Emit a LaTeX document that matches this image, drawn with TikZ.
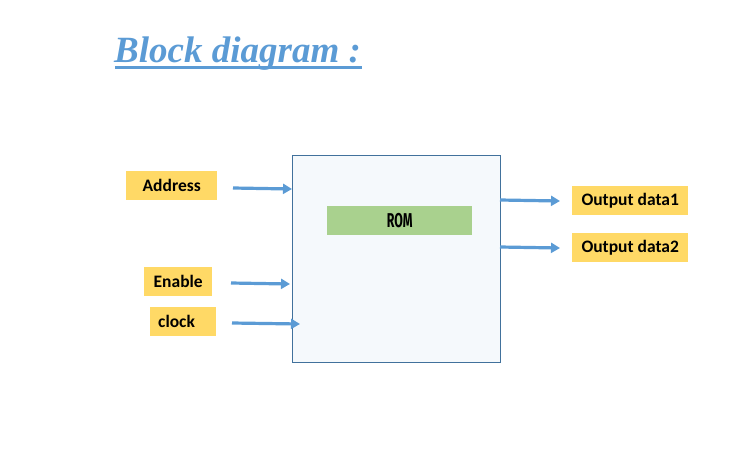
\documentclass[tikz,border=0pt]{standalone}
\usepackage{fontspec}
\setmainfont{Carlito}
\newfontfamily\titlefont{Liberation Serif}
\newfontfamily\romfont{Fira Sans}
\usetikzlibrary{arrows.meta}
\definecolor{arrowblue}{HTML}{5B9BD5}
\definecolor{boxborder}{HTML}{41719C}
\definecolor{boxfill}{HTML}{F5F9FC}
\definecolor{romgreen}{HTML}{A9D18E}
\definecolor{labelyellow}{HTML}{FFD966}
\begin{document}
\begin{tikzpicture}[x=1pt,y=-1pt,
  lbl/.style={fill=labelyellow, inner sep=0pt, font=\fontsize{17.5}{20}\selectfont\bfseries},
  conn/.style={draw=arrowblue, line width=3.2pt, -{Triangle[length=9pt,width=10pt]}}]
\useasboundingbox (0,0) rectangle (747,448);
% title
\node[anchor=base west, inner sep=0pt, text=arrowblue, font=\titlefont\fontsize{37}{42}\selectfont\bfseries\itshape] (title) at (114,62) {Block diagram :};
\draw[arrowblue, line width=2.2pt] (115,67.5) -- (362,67.5);
% main block
\node[draw=boxborder, fill=boxfill, line width=0.9pt, minimum width=208pt, minimum height=207pt, inner sep=0pt, anchor=north west] (main) at (292,155) {};
\node[fill=romgreen, minimum width=145pt, minimum height=29pt, inner sep=0pt, anchor=north west, font=\romfont\fontsize{20}{22}\selectfont\bfseries] (rom) at (327,206) {\scalebox{0.62}[1]{ROM}};
% inputs
\node[lbl, minimum width=91pt, minimum height=29pt, anchor=north west] (addr) at (126,171) {Address};
\node[lbl, minimum width=68pt, minimum height=29pt, anchor=north west] (en) at (144,267) {Enable};
\node[lbl, minimum width=66pt, minimum height=29pt, anchor=north west, text width=50pt, align=left] (clk) at (150,307) {clock};
% outputs
\node[lbl, minimum width=116pt, minimum height=29pt, anchor=north west] (out1) at (572,186) {Output data1};
\node[lbl, minimum width=116pt, minimum height=29pt, anchor=north west] (out2) at (572,233) {Output data2};
% connectors
\coordinate (a1) at (233,188);
\coordinate (a2) at (292,189);
\coordinate (e1) at (231,283);
\coordinate (e2) at (290,284);
\coordinate (c1) at (232,323);
\coordinate (c2) at (300,324);
\coordinate (o1) at (500,200);
\coordinate (p1) at (560,201);
\coordinate (o2) at (500,247);
\coordinate (p2) at (560,248);
\draw[conn] (a1) -- (a2);
\draw[conn] (e1) -- (e2);
\draw[conn] (c1) -- (c2);
\draw[conn] (o1) -- (p1);
\draw[conn] (o2) -- (p2);
\end{tikzpicture}
\end{document}
